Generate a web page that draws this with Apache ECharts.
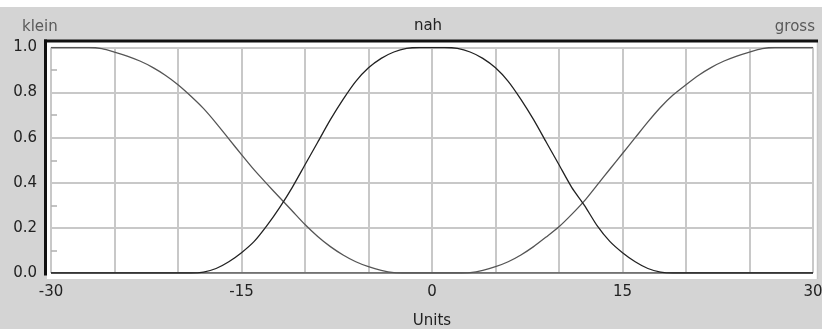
<!DOCTYPE html>
<html>
<head>
<meta charset="utf-8">
<script src="https://cdn.jsdelivr.net/npm/echarts@6/dist/echarts.min.js"></script>
<style>
  html, body { margin: 0; padding: 0; background: #d4d4d4; }
  #chart { width: 822px; height: 329px; }
</style>
</head>
<body>
<div id="chart"></div>
<script>
// Universe of discourse: -30 .. 30 in 1-unit steps
const xValues = [-30,-29,-28,-27,-26,-25,-24,-23,-22,-21,-20,-19,-18,-17,-16,-15,-14,-13,-12,-11,-10,-9,-8,-7,-6,-5,-4,-3,-2,-1,0,1,2,3,4,5,6,7,8,9,10,11,12,13,14,15,16,17,18,19,20,21,22,23,24,25,26,27,28,29,30];

// Membership degrees of the three fuzzy sets
const klein = [1,1,1,1,0.995,0.98,0.962,0.94,0.912,0.877,0.835,0.785,0.73,0.665,0.595,0.525,0.457,0.395,0.335,0.275,0.215,0.162,0.117,0.08,0.05,0.028,0.012,0.002,0,0,0,0,0,0,0,0,0,0,0,0,0,0,0,0,0,0,0,0,0,0,0,0,0,0,0,0,0,0,0,0,0];
const nah   = [0,0,0,0,0,0,0,0,0,0,0,0,0.004,0.02,0.05,0.09,0.14,0.21,0.29,0.38,0.48,0.58,0.68,0.77,0.85,0.91,0.952,0.98,0.996,1,1,1,0.996,0.98,0.952,0.91,0.85,0.77,0.68,0.58,0.48,0.38,0.3,0.21,0.14,0.09,0.05,0.02,0.004,0,0,0,0,0,0,0,0,0,0,0,0];
const gross = [0,0,0,0,0,0,0,0,0,0,0,0,0,0,0,0,0,0,0,0,0,0,0,0,0,0,0,0,0,0,0,0,0,0.002,0.012,0.028,0.05,0.08,0.117,0.16,0.205,0.26,0.32,0.39,0.46,0.53,0.6,0.67,0.735,0.79,0.835,0.877,0.912,0.94,0.962,0.98,0.995,1,1,1,1];

const setNames = ['klein', 'nah', 'gross'];
const xTickLabels = [-30, -15, 0, 15, 30];
const axisTitle = 'Units';

const pairs = arr => xValues.map((x, i) => [x, arr[i]]);
const FONT = '"DejaVu Sans", Arial, sans-serif';

const chart = echarts.init(document.getElementById('chart'), null, { renderer: 'canvas' });

function lineSeries(name, data, color) {
  return {
    name: name,
    type: 'line',
    data: pairs(data),
    showSymbol: false,
    smooth: 0.25,
    lineStyle: { color: color, width: 1.3 },
    z: 3,
    silent: true
  };
}

chart.setOption({
  backgroundColor: '#d4d4d4',
  animation: false,
  grid: { left: 51, width: 762, top: 47.5, height: 225.5, containLabel: false, outerBoundsMode: 'none' },
  xAxis: {
    type: 'value',
    min: -30, max: 30, interval: 5,
    name: axisTitle,
    nameLocation: 'middle',
    nameGap: 41,
    nameTextStyle: { color: '#222', fontSize: 15, fontFamily: FONT },
    axisLine: { show: false, onZero: false },
    axisTick: { show: false },
    splitLine: { show: true, lineStyle: { color: '#c8c8c8', width: 2 } },
    axisLabel: {
      color: '#222', fontSize: 15, fontFamily: FONT, margin: 12,
      formatter: v => (xTickLabels.indexOf(v) >= 0 ? String(v) : '')
    }
  },
  yAxis: {
    type: 'value',
    min: 0, max: 1, interval: 0.2,
    axisLine: { show: false, onZero: false },
    axisTick: { show: false, inside: true },
    minorTick: { show: true, splitNumber: 2, length: 6, lineStyle: { color: '#b0b0b0', width: 1.5 } },
    splitLine: { show: true, lineStyle: { color: '#c8c8c8', width: 2 } },
    axisLabel: {
      color: '#222', fontSize: 15, fontFamily: FONT, margin: 14,
      formatter: v => v.toFixed(1)
    }
  },
  graphic: [
    // white strip along the top edge
    { type: 'rect', shape: { x: 0, y: 0, width: 822, height: 7 }, style: { fill: '#ffffff' }, z: -10, silent: true },
    // plotting surface
    { type: 'rect', shape: { x: 47, y: 42, width: 771, height: 237 }, style: { fill: '#ffffff' }, z: -10, silent: true },
    // frame: heavy top and left edges
    { type: 'rect', shape: { x: 44, y: 39.5, width: 774, height: 3 }, style: { fill: '#111111' }, z: 10, silent: true },
    { type: 'rect', shape: { x: 44, y: 39.5, width: 3, height: 236 }, style: { fill: '#111111' }, z: 10, silent: true },
    // light right edge
    { type: 'line', shape: { x1: 817.5, y1: 42, x2: 817.5, y2: 279 }, style: { stroke: '#c8c8c8', lineWidth: 1.5 }, z: -5, silent: true },
    // set names above the plot
    { type: 'text', x: 22, y: 27, style: { text: setNames[0], fill: '#5a5a5a', font: '15px ' + FONT, textVerticalAlign: 'middle', textAlign: 'left' }, silent: true },
    { type: 'text', x: 428, y: 26, style: { text: setNames[1], fill: '#222', font: '15px ' + FONT, textVerticalAlign: 'middle', textAlign: 'center' }, silent: true },
    { type: 'text', x: 815, y: 27, style: { text: setNames[2], fill: '#5a5a5a', font: '15px ' + FONT, textVerticalAlign: 'middle', textAlign: 'right' }, silent: true }
  ],
  series: [
    lineSeries(setNames[0], klein, '#555555'),
    lineSeries(setNames[2], gross, '#555555'),
    lineSeries(setNames[1], nah, '#222222')
  ]
});
</script>
</body>
</html>
